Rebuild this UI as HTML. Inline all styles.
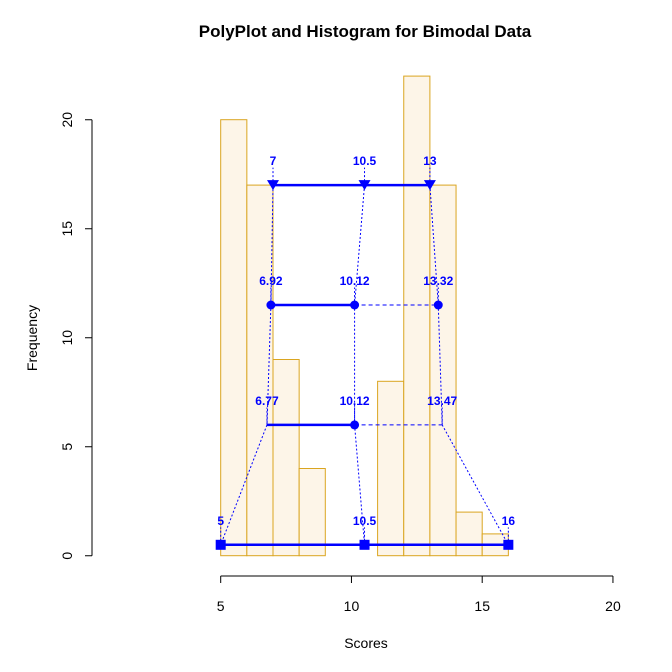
<!DOCTYPE html>
<html><head><meta charset="utf-8"><style>body{margin:0;background:#fff}svg{display:block;font-family:"Liberation Sans",Arial,sans-serif}</style></head>
<body>
<svg id="c" width="672" height="672" xmlns="http://www.w3.org/2000/svg">
<text x="365" y="37" text-anchor="middle" font-weight="bold" font-size="17">PolyPlot and Histogram for Bimodal Data</text>
<text x="366" y="648" text-anchor="middle" font-size="14">Scores</text>
<text transform="translate(37,338) rotate(-90)" text-anchor="middle" font-size="14">Frequency</text>
<g id="g"></g>
</svg>
<script>
const binStarts=[5,6,7,8,9,10,11,12,13,14,15];
const binCounts=[20,17,9,4,0,0,8,22,17,2,1];
const xTicks=[5,10,15,20];
const yTicks=[0,5,10,15,20];
const rowLevels=[17,11.5,6,0.5];
const rowLeft=[7,6.92,6.77,5];
const rowMid=[10.5,10.12,10.12,10.5];
const rowRight=[13,13.32,13.47,16];
const rowShapes=['tri','circle','none','square'];
const rowRightDashed=[false,true,true,false];

const X=v=>220.7+(v-5)*26.15;
const Y=v=>555.7-v*21.8;
const NS='http://www.w3.org/2000/svg';
const g=document.getElementById('g');
function mk(t,a,parent){const e=document.createElementNS(NS,t);for(const k in a)e.setAttribute(k,a[k]);(parent||g).appendChild(e);return e;}
const blue='#0000ff';
// histogram
binStarts.forEach((s,i)=>{
 const r=mk('rect',{x:X(s),y:Y(binCounts[i]),width:X(s+1)-X(s),height:Y(0)-Y(binCounts[i]),fill:'#fdf5e8',stroke:'#daa520','stroke-width':1});
 
 
});
// axes
const xa=mk('path',{d:`M${X(5)},576H${X(20)}`+xTicks.map(t=>`M${X(t)},576v7`).join(''),stroke:'#000',fill:'none'});


xTicks.forEach(t=>{const e=mk('text',{x:X(t),y:611,'text-anchor':'middle','font-size':14});e.textContent=t;
 
 });
const ya=mk('path',{d:`M92,${Y(0)}V${Y(20)}`+yTicks.map(t=>`M92,${Y(t)}h-7`).join(''),stroke:'#000',fill:'none'});


yTicks.forEach(t=>{const e=mk('text',{transform:`translate(72,${Y(t)}) rotate(-90)`,'text-anchor':'middle','font-size':14});e.textContent=t;
 
 });
// connecting dotted lines
[rowLeft,rowMid,rowRight].forEach(arr=>{
 const p=mk('polyline',{points:arr.map((v,i)=>X(v)+','+Y(rowLevels[i])).join(' '),fill:'none',stroke:blue,'stroke-dasharray':'2,2','stroke-width':1});
 
 
});
// rows
rowLevels.forEach((lv,i)=>{
 const y=Y(lv);
 const l1=mk('line',{x1:X(rowLeft[i]),x2:X(rowMid[i]),y1:y,y2:y,stroke:blue,'stroke-width':2.5});
 
 
 const l2=mk('line',{x1:X(rowMid[i]),x2:X(rowRight[i]),y1:y,y2:y,stroke:blue,'stroke-width':rowRightDashed[i]?1:2.5,'stroke-dasharray':rowRightDashed[i]?'4,3':'none'});
 
 
 [rowLeft[i],rowMid[i],rowRight[i]].forEach((v,j)=>{
  const x=X(v);
  const st=mk('line',{x1:x,x2:x,y1:y,y2:Y(lv+0.8),stroke:blue,'stroke-dasharray':'2,2'});
  
  
  let m=null;
  const sh=rowShapes[i];
  if(sh==='tri')m=mk('path',{d:`M${x-6},${y-5}h12l-6,10z`,fill:blue});
  else if(sh==='circle')m=mk('circle',{cx:x,cy:y,r:4.5,fill:blue});
  else if(sh==='square')m=mk('rect',{x:x-5,y:y-5,width:10,height:10,fill:blue});
  else if(j===1)m=mk('circle',{cx:x,cy:y,r:4.5,fill:blue});
  if(m){
  }
  const t=mk('text',{x:x,y:Y(lv+1.1)+4,'text-anchor':'middle','font-size':12,'font-weight':'bold',fill:blue});
  t.textContent=String(v);
  
  
 });
});
</script>
</body></html>
